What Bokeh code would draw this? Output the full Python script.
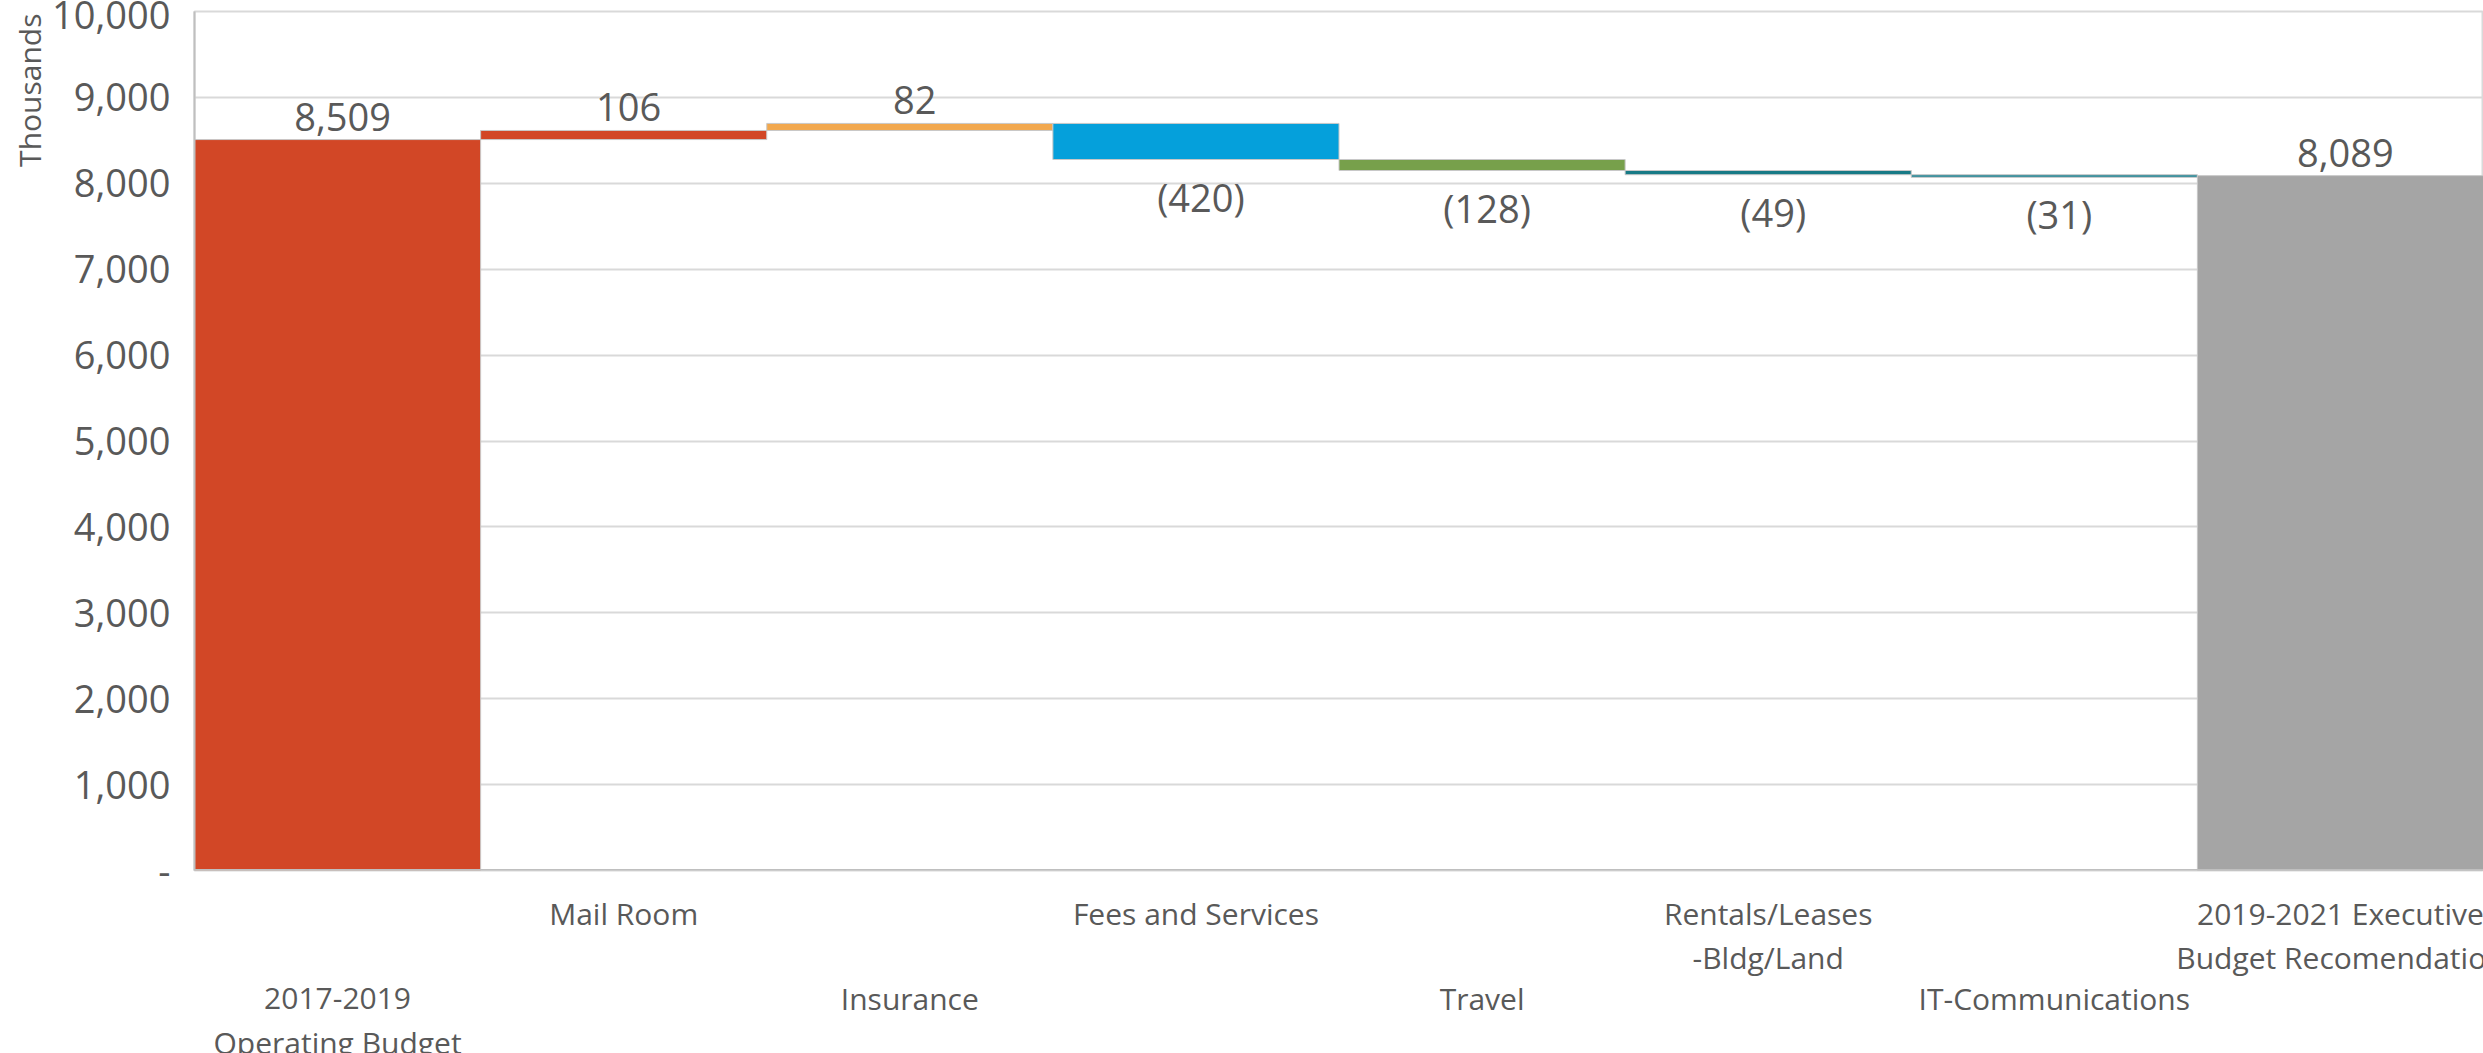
from bokeh.plotting import figure
from bokeh.layouts import column
from bokeh.models import (ColumnDataSource, Range1d, FixedTicker, NumeralTickFormatter,
                          LabelSet, Title, Span)
from bokeh.core.properties import value
from bokeh.embed import file_html
from bokeh.resources import INLINE

# ---- data ----
categories = ["2017-2019\nOperating Budget", "Mail Room", "Insurance", "Fees and Services",
              "Travel", "Rentals/Leases\n-Bldg/Land", "IT-Communications",
              "2019-2021 Executive\nBudget Recomendation"]
values = [8509, 106, 82, -420, -128, -49, -31, 8089]
is_total = [True, False, False, False, False, False, False, True]
colors = ["#D24726", "#D24726", "#F2A84E", "#05A0DB", "#77A04B", "#177A86", "#2E8B98", "#A5A5A5"]
y_ticks = [0, 1000, 2000, 3000, 4000, 5000, 6000, 7000, 8000, 9000, 10000]

FONT = "Open Sans"
TXT = "#595959"

# ---- waterfall geometry from data ----
bottoms, tops, lefts, rights = [], [], [], []
run = 0
for i, (v, t) in enumerate(zip(values, is_total)):
    if t:
        b, tp = 0, v
        run = v
    else:
        start, end = run, run + v
        b, tp = min(start, end), max(start, end)
        run = end
    bottoms.append(b); tops.append(tp); lefts.append(i); rights.append(i + 1)

def fmt(v):
    s = f"{abs(v):,}"
    return f"({s})" if v < 0 else s

lab_x, lab_y, lab_t, lab_off = [], [], [], []
for i, v in enumerate(values):
    lab_x.append(i + 0.5)
    lab_t.append(fmt(v))
    if v >= 0:
        lab_y.append(tops[i]); lab_off.append(23)
    else:
        lab_y.append(bottoms[i]); lab_off.append(-37)

W = 2483
LEFT = 194
PAD = 30          # space under the frame kept in the main figure
FRAME_BOTTOM = 870
p = figure(width=W, height=FRAME_BOTTOM + PAD, output_backend="svg", toolbar_location=None,
           x_range=Range1d(0, len(categories)), y_range=Range1d(0, 10000),
           min_border_left=LEFT, min_border_right=0, min_border_top=11, min_border_bottom=PAD)
p.background_fill_color = "white"
p.border_fill_color = "white"
p.outline_line_color = "#d9d9d9"
p.outline_line_width = 2

p.quad(left=lefts, right=rights, bottom=bottoms, top=tops, fill_color=colors,
       line_color="#c8c8c8", line_width=1)

# y axis
p.yaxis.ticker = FixedTicker(ticks=y_ticks)
p.yaxis.formatter = NumeralTickFormatter(format="0,0")
p.yaxis.major_label_overrides = {0: "-"}
p.yaxis.major_tick_line_color = None
p.yaxis.minor_tick_line_color = None
p.yaxis.major_label_standoff = 18
p.yaxis.major_label_text_font = FONT
p.yaxis.major_label_text_font_size = "38px"
p.yaxis.major_label_text_color = TXT
p.yaxis.axis_line_color = "#bfbfbf"
p.yaxis.axis_line_width = 2

p.ygrid.ticker = FixedTicker(ticks=y_ticks)
p.ygrid.grid_line_color = "#d9d9d9"
p.ygrid.grid_line_width = 2
p.xgrid.grid_line_color = None
p.xaxis.visible = False
# horizontal axis line at zero
p.add_layout(Span(location=0, dimension="width", line_color="#bfbfbf", line_width=3))

# data labels
src = ColumnDataSource(dict(x=lab_x, y=lab_y, t=lab_t, off=lab_off))
p.add_layout(LabelSet(x="x", y="y", text="t", y_offset="off", x_offset=5, source=src,
                      text_align="center", text_baseline="middle",
                      text_font=value(FONT), text_font_size="38px", text_color=TXT))

# axis title "Thousands" at top of the left side
p.add_layout(Title(text="Thousands", align="right", text_font=FONT, text_font_size="30px",
                   text_font_style="normal", text_color=TXT, standoff=0, offset=2), "left")

# ---- category label strip below the chart (staggered rows) ----
STRIP = 1053 - FRAME_BOTTOM - PAD
p2 = figure(width=W, height=STRIP, output_backend="svg", toolbar_location=None,
            x_range=p.x_range, y_range=Range1d(-(STRIP + PAD), -PAD),
            min_border_left=LEFT, min_border_right=0, min_border_top=0, min_border_bottom=0)
p2.outline_line_color = None
p2.background_fill_color = "white"
p2.border_fill_color = "white"
p2.xaxis.visible = False
p2.yaxis.visible = False
p2.grid.grid_line_color = None

cx, cy, ct = [], [], []
for i, c in enumerate(categories):
    base = -128 if i % 2 == 0 else -43
    for j, line in enumerate(c.split("\n")):
        cx.append(i + 0.5); cy.append(base - 44 * j); ct.append(line)
p2.text(x=cx, y=cy, text=ct, text_align="center", text_baseline="middle",
        text_font=value(FONT), text_font_size="30px", text_color=TXT)

layout = column(p, p2, spacing=0)
open("out.html", "w").write(file_html(layout, INLINE))
